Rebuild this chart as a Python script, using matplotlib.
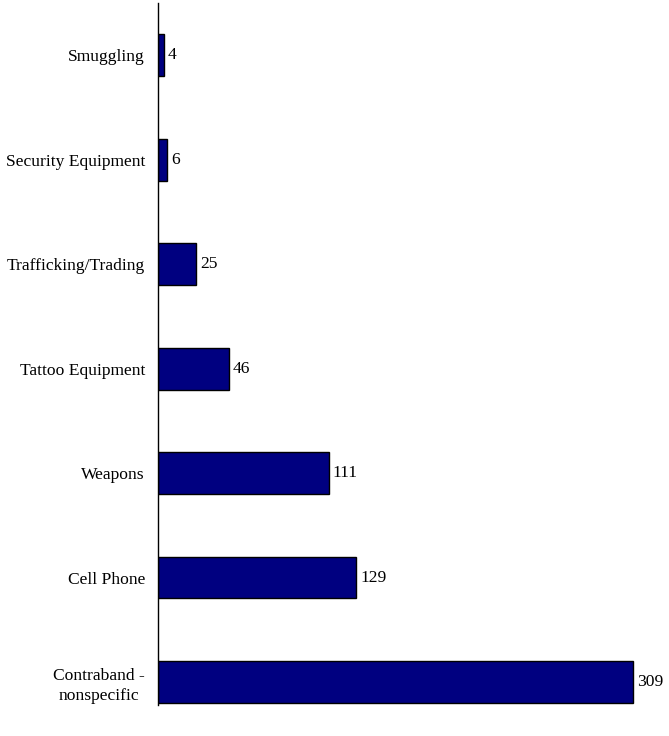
import matplotlib
matplotlib.use('Agg')
import matplotlib.pyplot as plt
from matplotlib.transforms import ScaledTranslation

categories = ['Contraband -\nnonspecific', 'Cell Phone', 'Weapons', 'Tattoo Equipment',
              'Trafficking/Trading', 'Security Equipment', 'Smuggling']
counts = [309, 129, 111, 46, 25, 6, 4]

plt.rcParams['font.family'] = 'Liberation Serif'
fig = plt.figure(figsize=(6.69, 7.36), dpi=100)
W, H = 669, 736
ax = fig.add_axes([158 / W, (736 - 705) / H, (665.3 - 158) / W, 702 / H])

ypos = range(len(categories))
ax.barh(ypos, counts, height=0.40, color='#000080', edgecolor='black', linewidth=1)
for y, v in zip(ypos, counts):
    ax.text(v + 2.5, y, str(v), va='center', ha='left', fontsize=12.6)

ax.set_yticks(list(ypos))
ax.set_yticklabels(categories, fontsize=12.6, ha='right', multialignment='center', linespacing=1.3)
ax.tick_params(axis='y', length=0, pad=0)
ax.set_xlim(0, 330)
ax.set_ylim(-0.22, 6.5)
ax.set_xticks([])
for s in ['top', 'right', 'bottom']:
    ax.spines[s].set_visible(False)
ax.spines['left'].set_linewidth(1)

# labels sit 13px left of the axis line
for lab in ax.get_yticklabels():
    lab.set_transform(lab.get_transform() + ScaledTranslation(-13 / 100, 0, fig.dpi_scale_trans))

fig.savefig('out.png', dpi=100)
